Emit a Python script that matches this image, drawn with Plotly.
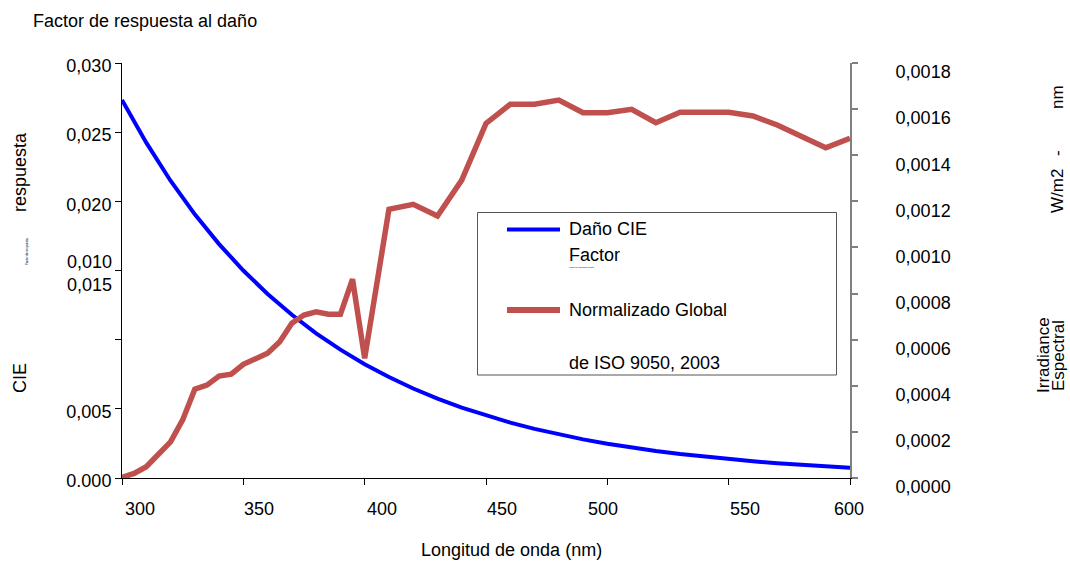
import plotly.graph_objects as go

# ---------------- data ----------------
wl_cie = [300, 310, 320, 330, 340, 350, 360, 370, 380, 390, 400, 410, 420, 430, 440,
          450, 460, 470, 480, 490, 500, 510, 520, 530, 540, 550, 560, 570, 580, 590, 600]
cie_factor = [0.02732, 0.02424, 0.02149, 0.01906, 0.01691, 0.01500, 0.01330, 0.01180,
              0.01046, 0.00928, 0.00823, 0.00730, 0.00647, 0.00574, 0.00509, 0.00452,
              0.00400, 0.00355, 0.00315, 0.00279, 0.00248, 0.00220, 0.00195, 0.00173,
              0.00154, 0.00136, 0.00121, 0.00107, 0.00095, 0.00084, 0.00075]

wl_iso = [300, 305, 310, 315, 320, 325, 330, 335, 340, 345, 350, 360, 365, 370, 375,
          380, 385, 390, 395, 400, 410, 420, 430, 440, 450, 460, 470, 480, 490, 500,
          510, 520, 530, 550, 560, 570, 590, 600]
iso_irr = [0.000003, 0.000020, 0.000049, 0.000100, 0.000157, 0.000252, 0.000385, 0.000403,
           0.000442, 0.000450, 0.000493, 0.000541, 0.000591, 0.000671, 0.000707, 0.000721,
           0.000710, 0.000710, 0.000862, 0.000519, 0.001165, 0.001187, 0.001136, 0.001292,
           0.001538, 0.001621, 0.001621, 0.001639, 0.001584, 0.001584, 0.001599, 0.001541,
           0.001586, 0.001586, 0.001570, 0.001531, 0.001432, 0.001473]

x_ticks = [300, 350, 400, 450, 500, 550, 600]
x_tick_text = ["300", "350", "400", "450", "500", "550", "600"]
left_ticks = [0.000, 0.005, 0.010, 0.015, 0.020, 0.025, 0.030]
left_tick_text = ["0.000", "0,005", "", "", "0,020", "0,025", "0,030"]
right_ticks = [0.0000, 0.0002, 0.0004, 0.0006, 0.0008, 0.0010, 0.0012, 0.0014, 0.0016, 0.0018]
right_tick_text = ["0,0000", "0,0002", "0,0004", "0,0006", "0,0008", "0,0010",
                   "0,0012", "0,0014", "0,0016", "0,0018"]

# ---------------- styling ----------------
FONT = "Liberation Sans, Arial, sans-serif"
BLUE = "#0000FF"
RED = "#C0504D"
W, H = 1070, 562
ML, MR, MT, MB = 122, 220, 63, 84
PW, PH = W - ML - MR, H - MT - MB


def px(xp):
    return (xp - ML) / PW


def py(yp):
    return (H - MB - yp) / PH


fig = go.Figure()
fig.add_trace(go.Scatter(x=wl_cie, y=cie_factor, mode="lines", yaxis="y",
                         line=dict(color=BLUE, width=4), name="Daño CIE Factor",
                         showlegend=False))
fig.add_trace(go.Scatter(x=wl_iso, y=iso_irr, mode="lines", yaxis="y2",
                         line=dict(color=RED, width=5.5), name="Normalizado Global de ISO 9050, 2003",
                         showlegend=False))

annotations = []
# x tick labels (slightly offset like the original)
x_label_shift = [18, 16, 17, 16, -4, 16, -1]
for v, t, s in zip(x_ticks, x_tick_text, x_label_shift):
    annotations.append(dict(x=v, xref="x", y=0, yref="paper", text=t, showarrow=False,
                            xanchor="center", yanchor="middle", xshift=s, yshift=-31,
                            font=dict(size=18, color="black", family=FONT)))

# odd left labels near 0.015
annotations.append(dict(x=0, xref="paper", y=0.015, yref="y", text="0,010", showarrow=False,
                        xanchor="right", yanchor="middle", xshift=-8, yshift=9,
                        font=dict(size=18, color="black", family=FONT)))
annotations.append(dict(x=0, xref="paper", y=0.015, yref="y", text="0,015", showarrow=False,
                        xanchor="right", yanchor="middle", xshift=-8, yshift=-14,
                        font=dict(size=18, color="black", family=FONT)))


def txt(text, xp, yp, size=18, angle=0, anchor="center"):
    annotations.append(dict(x=px(xp), y=py(yp), xref="paper", yref="paper", text=text,
                            showarrow=False, textangle=angle, xanchor=anchor, yanchor="middle",
                            font=dict(size=size, color="black", family=FONT)))


# titles
txt("Factor de respuesta al daño", 31, 21, anchor="left")
txt("respuesta", 20, 172, angle=-90)
txt("CIE", 20, 378, angle=-90)
txt("Factor de respuesta", 27, 252, size=3, angle=-90)
txt("Longitud de onda (nm)", 511, 550)
txt("nm", 1057, 97, size=17, angle=-90)
txt("-", 1057, 153, size=17, angle=-90)
txt("W/m2", 1057, 191, size=17, angle=-90)
txt("Irradiance", 1043, 355, size=17, angle=-90)
txt("Espectral", 1058, 356, size=17, angle=-90)

# legend texts
txt("Daño CIE", 567, 229, anchor="left")
txt("Factor", 567, 255, anchor="left")
txt("Factor de respuesta al daño", 567, 267, size=2, anchor="left")
txt("Normalizado Global", 567, 310, anchor="left")
txt("de ISO 9050, 2003", 567, 363, anchor="left")

shapes = [
    dict(type="rect", xref="paper", yref="paper", x0=px(477.5), x1=px(836.5),
         y0=py(375), y1=py(212.5), line=dict(color="#555555", width=1), fillcolor="rgba(0,0,0,0)"),
    dict(type="line", xref="paper", yref="paper", x0=px(507), x1=px(560),
         y0=py(229.5), y1=py(229.5), line=dict(color=BLUE, width=4)),
    dict(type="line", xref="paper", yref="paper", x0=px(507), x1=px(560),
         y0=py(310), y1=py(310), line=dict(color=RED, width=6)),
]

fig.update_layout(
    width=W, height=H,
    margin=dict(l=ML, r=MR, t=MT, b=MB, pad=0),
    paper_bgcolor="white", plot_bgcolor="white",
    font=dict(family=FONT, size=18, color="black"),
    showlegend=False,
    xaxis=dict(range=[300, 600], tickvals=x_ticks, showticklabels=False,
               showline=True, linecolor="black", linewidth=1, ticks="outside",
               ticklen=6, tickcolor="black", showgrid=False, zeroline=False),
    yaxis=dict(range=[0, 0.030], tickvals=left_ticks, ticktext=left_tick_text,
               showline=True, linecolor="black", linewidth=1, ticks="outside",
               ticklen=6, tickcolor="black", showgrid=False, zeroline=False,
               tickfont=dict(size=18, color="black", family=FONT), ticklabelshift=3),
    yaxis2=dict(range=[0, 0.0018], tickvals=right_ticks, ticktext=right_tick_text,
                overlaying="y", side="right", showline=True, linecolor="#808080", linewidth=2,
                ticks="outside", ticklen=6, tickcolor="#808080", tickwidth=2,
                showgrid=False, zeroline=False,
                tickfont=dict(size=18, color="black", family=FONT),
                ticklabelstandoff=34, ticklabelshift=9),
    annotations=annotations,
    shapes=shapes,
)

fig.write_html("out.html", config={"displayModeBar": False},
               post_script="document.body.style.margin='0';document.body.style.overflow='hidden';")
